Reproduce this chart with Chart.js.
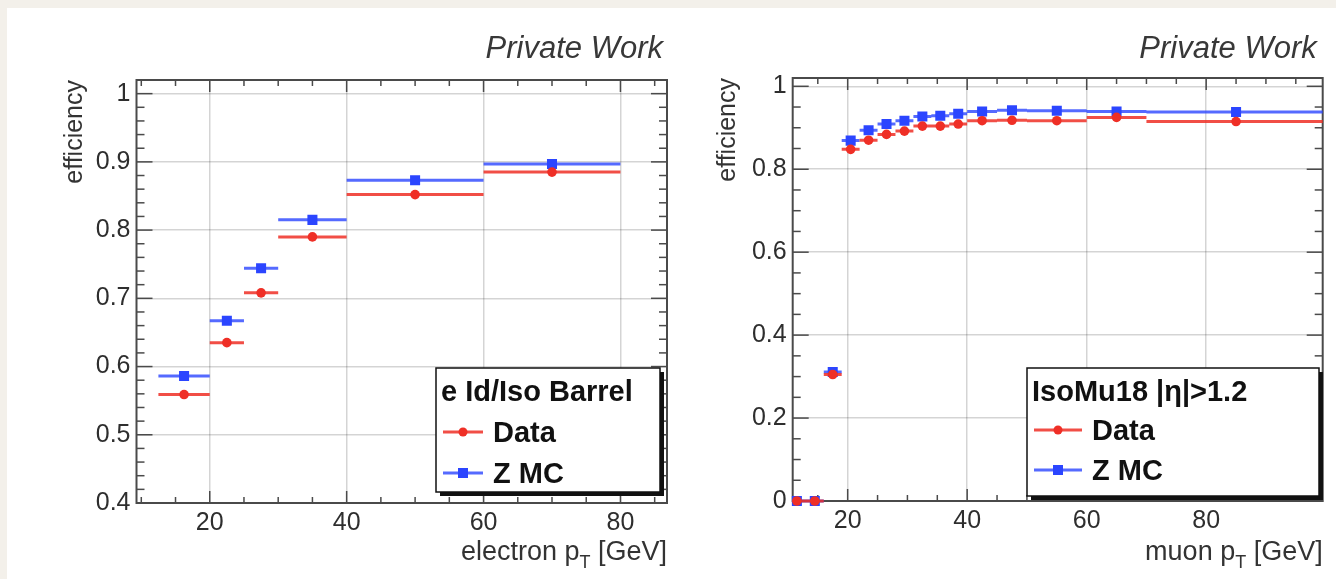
<!DOCTYPE html>
<html>
<head>
<meta charset="utf-8">
<script src="https://cdn.jsdelivr.net/npm/chart.js@4.4.0/dist/chart.umd.min.js"></script>
<style>
  html, body { margin: 0; padding: 0; background: #f3f0ea; }
  body { width: 1336px; height: 579px; position: relative; overflow: hidden; }
  #panel { position: absolute; left: 7px; top: 8px; right: 0; bottom: 0; background: #fff; }
  .plot { position: absolute; top: 8px; height: 571px; }
  #eleBox { left: 7px; width: 673px; }
  #muBox { left: 680px; width: 656px; }
</style>
</head>
<body>
<div id="panel"></div>
<div class="plot" id="eleBox"><canvas id="ele"></canvas></div>
<div class="plot" id="muBox"><canvas id="mu"></canvas></div>
<script>
// electron Id/Iso efficiency, barrel
const eleBinLo = [12.5, 20, 25, 30, 40, 60];
const eleBinHi = [20, 25, 30, 40, 60, 80];
const eleBinCenter = [16.25, 22.5, 27.5, 35, 50, 70];
const eleData = [0.559, 0.635, 0.708, 0.790, 0.852, 0.885];
const eleMC = [0.586, 0.667, 0.744, 0.815, 0.873, 0.897];
const eleYTicks = [0.4, 0.5, 0.6, 0.7, 0.8, 0.9, 1];
const eleXTicks = [20, 40, 60, 80];

// IsoMu18 trigger efficiency, |eta| > 1.2
const muBinLo = [10, 13, 16, 19, 22, 25, 28, 31, 34, 37, 40, 45, 50, 60, 70];
const muBinHi = [13, 16, 19, 22, 25, 28, 31, 34, 37, 40, 45, 50, 60, 70, 100];
const muBinCenter = [11.5, 14.5, 17.5, 20.5, 23.5, 26.5, 29.5, 32.5, 35.5, 38.5, 42.5, 47.5, 55, 65, 85];
const muData = [0, 0, 0.305, 0.848, 0.870, 0.884, 0.892, 0.904, 0.904, 0.909, 0.917, 0.918, 0.917, 0.925, 0.915];
const muMC = [0, 0, 0.311, 0.869, 0.894, 0.909, 0.917, 0.927, 0.929, 0.934, 0.939, 0.942, 0.941, 0.939, 0.938];
const muYTicks = [0, 0.2, 0.4, 0.6, 0.8, 1];
const muXTicks = [20, 40, 60, 80];

const RED = '#ef2f26', BLUE = '#2b45ff';
const RED_LINE = 'rgba(239,47,38,0.85)', BLUE_LINE = 'rgba(43,69,255,0.8)';
const FONT = "'Liberation Sans', Arial, Helvetica, sans-serif";

// horizontal error bars: one segment per bin, broken by nulls
const segments = (lo, hi, v) => lo.flatMap((l, i) => [{x: l, y: v[i]}, {x: hi[i], y: v[i]}, {x: hi[i], y: null}]);
const points = (c, v) => c.map((x, i) => ({x, y: v[i]}));

function line(ctx, x1, y1, x2, y2) {
  ctx.beginPath(); ctx.moveTo(x1, y1); ctx.lineTo(x2, y2); ctx.stroke();
}

function marker(ctx, style, x, y) {
  ctx.beginPath();
  if (style === 'rect') ctx.rect(x - 5, y - 5, 10, 10);
  else ctx.arc(x, y, 4.5, 0, Math.PI * 2);
  ctx.fill();
}

// ROOT style frame with inward ticks on all four sides
const rootFrame = {
  id: 'rootFrame',
  beforeDatasetsDraw(chart, args, o) {
    const {ctx, chartArea: a, scales: {x, y}} = chart;
    ctx.save();
    ctx.strokeStyle = '#4a4a4a';
    ctx.lineWidth = 1.5;
    const isMajor = (v, step) => Math.abs(v / step - Math.round(v / step)) < 1e-6;
    for (let k = Math.ceil(x.min / o.xMinor - 1e-9); k * o.xMinor <= x.max + 1e-9; k++) {
      const v = k * o.xMinor, px = x.getPixelForValue(v);
      const len = isMajor(v, o.xMajor) ? 12 : 6;
      line(ctx, px, a.bottom, px, a.bottom - len);
      line(ctx, px, a.top, px, a.top + len);
    }
    for (let k = Math.ceil(y.min / o.yMinor - 1e-9); k * o.yMinor <= y.max + 1e-9; k++) {
      const v = k * o.yMinor, py = y.getPixelForValue(v);
      const len = isMajor(v, o.yMajor) ? 16 : 8;
      line(ctx, a.left, py, a.left + len, py);
      line(ctx, a.right, py, a.right - len, py);
    }
    ctx.lineWidth = 2;
    ctx.strokeRect(a.left, a.top, a.right - a.left, a.bottom - a.top);
    ctx.restore();
  },
  afterDraw(chart, args, o) {
    const {ctx, chartArea: a} = chart;
    ctx.save();
    // label in the upper right
    ctx.fillStyle = '#383838';
    ctx.font = `italic 31px ${FONT}`;
    ctx.textAlign = 'right';
    ctx.textBaseline = 'alphabetic';
    ctx.fillText('Private Work', a.right + o.privateDx, o.privateY);

    // y title, right aligned to the top of the frame
    ctx.save();
    ctx.translate(o.yTitleX, a.top);
    ctx.rotate(-Math.PI / 2);
    ctx.fillStyle = '#333';
    ctx.font = `25px ${FONT}`;
    ctx.textAlign = 'right';
    ctx.textBaseline = 'middle';
    ctx.fillText('efficiency', 0, 0);
    ctx.restore();

    // x title with subscript T
    const big = `27px ${FONT}`, small = `18px ${FONT}`;
    ctx.fillStyle = '#333';
    ctx.textAlign = 'left';
    ctx.font = big;
    const w1 = ctx.measureText(o.xTitle + ' p').width, w3 = ctx.measureText(' [GeV]').width;
    ctx.font = small;
    const w2 = ctx.measureText('T').width;
    const xs = a.right - (w1 + w2 + w3);
    ctx.font = big;
    ctx.fillText(o.xTitle + ' p', xs, o.xTitleY);
    ctx.font = small;
    ctx.fillText('T', xs + w1, o.xTitleY + 8);
    ctx.font = big;
    ctx.fillText(' [GeV]', xs + w1 + w2, o.xTitleY);

    // legend box with shadow
    const L = o.legend;
    ctx.fillStyle = '#111';
    ctx.fillRect(L.x + 4, L.y + 4, L.w, L.h);
    ctx.fillStyle = '#fff';
    ctx.fillRect(L.x, L.y, L.w, L.h);
    ctx.strokeStyle = '#111';
    ctx.lineWidth = 1.5;
    ctx.strokeRect(L.x, L.y, L.w, L.h);
    ctx.fillStyle = '#111';
    ctx.font = `bold 29px ${FONT}`;
    ctx.fillText(L.header, L.x + 5, L.y + 33);
    const rows = [['Data', RED, RED_LINE, 'circle', 0], ['Z MC', BLUE, BLUE_LINE, 'rect', L.rowGap]];
    rows.forEach(([label, c, lc, style, dy]) => {
      const ly = L.y + L.row1 + dy;
      ctx.strokeStyle = lc; ctx.lineWidth = 3;
      line(ctx, L.x + 7, ly, L.x + L.lineW, ly);
      ctx.fillStyle = c;
      marker(ctx, style, L.x + 7 + (L.lineW - 7) / 2, ly);
      ctx.fillStyle = '#111';
      ctx.textBaseline = 'middle';
      ctx.fillText(label, L.x + L.lineW + 10, ly + 2);
      ctx.textBaseline = 'alphabetic';
    });
    ctx.restore();
  }
};

function makeChart(id, cfg) {
  const tickFont = {family: FONT, size: 25};
  const grid = {color: 'rgba(0,0,0,0.17)', lineWidth: 1.5, drawTicks: false};
  return new Chart(document.getElementById(id), {
    type: 'line',
    data: {
      datasets: [
        {data: points(cfg.center, cfg.data), showLine: false, pointStyle: 'circle', pointRadius: 4.8,
         pointBackgroundColor: RED, pointBorderWidth: 0, clip: 10},
        {data: segments(cfg.lo, cfg.hi, cfg.data), borderColor: RED_LINE, borderWidth: 3, pointRadius: 0,
         spanGaps: false, clip: {left: 0, right: 0, top: 5, bottom: 5}},
        {data: points(cfg.center, cfg.mc), showLine: false, pointStyle: 'rect', pointRadius: 7.1,
         pointBackgroundColor: BLUE, pointBorderWidth: 0, clip: 10},
        {data: segments(cfg.lo, cfg.hi, cfg.mc), borderColor: BLUE_LINE, borderWidth: 3, pointRadius: 0,
         spanGaps: false, clip: {left: 0, right: 0, top: 5, bottom: 5}}
      ]
    },
    options: {
      responsive: true,
      maintainAspectRatio: false,
      animation: false,
      events: [],
      layout: {padding: {top: cfg.padTop, right: cfg.padRight, left: 0, bottom: 0}},
      plugins: {
        legend: {display: false},
        tooltip: {enabled: false},
        rootFrame: cfg.frame
      },
      scales: {
        x: {
          type: 'linear', min: cfg.xmin, max: cfg.xmax,
          afterBuildTicks: s => { s.ticks = cfg.xTicks.map(value => ({value})); },
          afterFit: s => { s.height = cfg.xAxisH; },
          grid, border: {display: false},
          ticks: {font: tickFont, color: '#2e2e2e', padding: 5, maxRotation: 0,
                  callback: v => String(v)}
        },
        y: {
          type: 'linear', min: cfg.ymin, max: cfg.ymax,
          afterBuildTicks: s => { s.ticks = cfg.yTicks.map(value => ({value})); },
          afterFit: s => { s.width = cfg.yAxisW; },
          grid, border: {display: false},
          ticks: {font: tickFont, color: '#2e2e2e', padding: 6,
                  callback: v => String(Math.round(v * 10) / 10)}
        }
      }
    },
    plugins: [rootFrame]
  });
}

makeChart('ele', {
  lo: eleBinLo, hi: eleBinHi, center: eleBinCenter, data: eleData, mc: eleMC,
  xTicks: eleXTicks, yTicks: eleYTicks,
  xmin: 9.3, xmax: 86.8, ymin: 0.4, ymax: 1.02,
  padTop: 72, padRight: 13, yAxisW: 129.5, xAxisH: 76,
  frame: {
    xMinor: 5, xMajor: 20, yMinor: 0.02, yMajor: 0.1,
    privateDx: -4, privateY: 50, yTitleX: 68, xTitle: 'electron', xTitleY: 552,
    legend: {x: 429, y: 360, w: 224, h: 124, header: 'e Id/Iso Barrel', row1: 64, rowGap: 41, lineW: 47}
  }
});

makeChart('mu', {
  lo: muBinLo, hi: muBinHi, center: muBinCenter, data: muData, mc: muMC,
  xTicks: muXTicks, yTicks: muYTicks,
  xmin: 10.8, xmax: 99.5, ymin: 0, ymax: 1.02,
  padTop: 70, padRight: 13.3, yAxisW: 112.7, xAxisH: 78,
  frame: {
    xMinor: 5, xMajor: 20, yMinor: 0.05, yMajor: 0.2,
    privateDx: -6, privateY: 50, yTitleX: 48, xTitle: 'muon', xTitleY: 552,
    legend: {x: 347, y: 360, w: 292, h: 128, header: 'IsoMu18 |\u03b7|>1.2', row1: 62, rowGap: 40, lineW: 55}
  }
});
</script>
</body>
</html>
